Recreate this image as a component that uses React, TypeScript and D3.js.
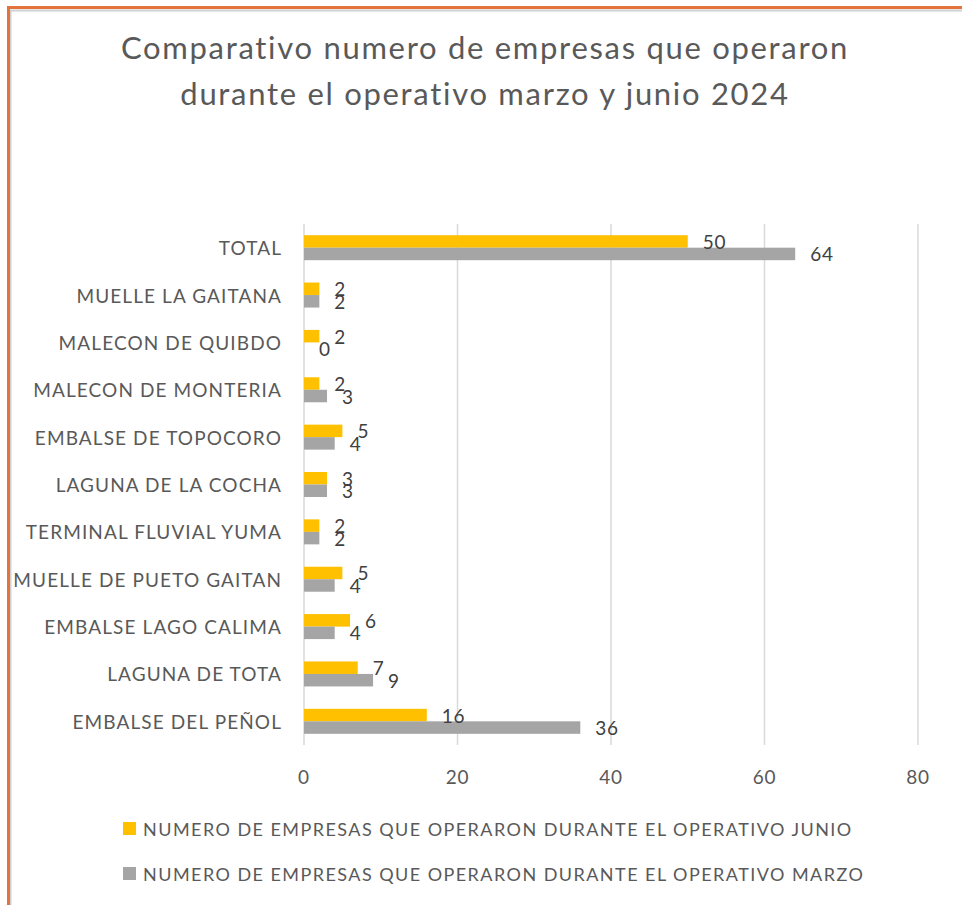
import React from "react";
import * as d3 from "d3";

const categories = [
  "TOTAL",
  "MUELLE LA GAITANA",
  "MALECON DE QUIBDO",
  "MALECON DE MONTERIA",
  "EMBALSE DE TOPOCORO",
  "LAGUNA DE LA COCHA",
  "TERMINAL FLUVIAL YUMA",
  "MUELLE DE PUETO GAITAN",
  "EMBALSE LAGO CALIMA",
  "LAGUNA DE TOTA",
  "EMBALSE DEL PEÑOL",
];
const junio = [50, 2, 2, 2, 5, 3, 2, 5, 6, 7, 16];
const marzo = [64, 2, 0, 3, 4, 3, 2, 4, 4, 9, 36];
const xTicks = [0, 20, 40, 60, 80];
const seriesNames = [
  "NUMERO DE EMPRESAS QUE OPERARON DURANTE EL OPERATIVO JUNIO",
  "NUMERO DE EMPRESAS QUE OPERARON DURANTE EL OPERATIVO MARZO",
];
const titleLines = [
  "Comparativo numero de empresas que operaron",
  "durante el operativo marzo y junio 2024",
];

const W = 962;
const H = 905;
const FONT = "Lato, 'Open Sans', sans-serif";
const TEXT = "#595959";
const YELLOW = "#FFC000";
const GREY = "#A5A5A5";

export default function App() {
  const x = d3.scaleLinear().domain([0, 80]).range([304, 918]);
  const y = d3.scaleBand<string>().domain(categories).range([224, 745]);
  const groupH = 25;
  const inner = d3.scaleBand<string>().domain(["j", "m"]).range([0, groupH]);
  const bandOffset = (y.bandwidth() - groupH) / 2;

  return (
    <svg
      width={W}
      height={H}
      style={{ position: "absolute", left: 0, top: 0, display: "block" }}
      fontFamily={FONT}
    >
      <rect x={0} y={0} width={W} height={H} fill="#fff" />
      {/* frame */}
      <line x1={10.5} y1={10} x2={10.5} y2={H} stroke="#D0D0D0" strokeWidth={2} />
      <line x1={10} y1={10.5} x2={W} y2={10.5} stroke="#D0D0D0" strokeWidth={2} />
      <line x1={8.5} y1={6} x2={8.5} y2={H} stroke="#E2733B" strokeWidth={3} />
      <line x1={7} y1={7.5} x2={W} y2={7.5} stroke="#E2733B" strokeWidth={3} />

      {/* title */}
      {titleLines.map((t, i) => (
        <text
          key={i}
          x={485}
          y={47 + i * 46}
          textAnchor="middle"
          dominantBaseline="central"
          fontSize={31}
          letterSpacing={1.7}
          fill={TEXT}
        >
          {t}
        </text>
      ))}

      {/* gridlines */}
      {xTicks.map((t) => (
        <line
          key={t}
          x1={x(t)}
          x2={x(t)}
          y1={224}
          y2={745}
          stroke="#D9D9D9"
          strokeWidth={1.5}
        />
      ))}
      {xTicks.map((t) => (
        <text
          key={"t" + t}
          x={x(t)}
          y={776}
          textAnchor="middle"
          dominantBaseline="central"
          fontSize={19}
          letterSpacing={0.8}
          fill={TEXT}
        >
          {t}
        </text>
      ))}

      {/* categories */}
      {categories.map((c) => (
        <text
          key={c}
          x={282}
          y={(y(c) as number) + y.bandwidth() / 2}
          textAnchor="end"
          dominantBaseline="central"
          fontSize={19}
          letterSpacing={1.1}
          fill={TEXT}
        >
          {c}
        </text>
      ))}

      {/* bars */}
      {categories.map((c, i) => {
        const top = (y(c) as number) + bandOffset;
        const yj = top + (inner("j") as number);
        const ym = top + (inner("m") as number);
        const h = inner.bandwidth();
        return (
          <g key={c}>
            <rect x={x(0)} y={yj} width={x(junio[i]) - x(0)} height={h} fill={YELLOW} />
            <rect x={x(0)} y={ym} width={x(marzo[i]) - x(0)} height={h} fill={GREY} />
            <text
              x={x(junio[i]) + 15}
              y={yj + h / 2}
              dominantBaseline="central"
              fontSize={19}
              letterSpacing={0.8}
              fill="#404040"
            >
              {junio[i]}
            </text>
            <text
              x={x(marzo[i]) + 15}
              y={ym + h / 2}
              dominantBaseline="central"
              fontSize={19}
              letterSpacing={0.8}
              fill="#404040"
            >
              {marzo[i]}
            </text>
          </g>
        );
      })}

      {/* legend */}
      {seriesNames.map((s, i) => (
        <g key={s}>
          <rect
            x={123}
            y={822 + i * 45}
            width={13}
            height={13}
            fill={i === 0 ? YELLOW : GREY}
          />
          <text
            x={143}
            y={829 + i * 45}
            dominantBaseline="central"
            fontSize={18}
            letterSpacing={1.45}
            fill={TEXT}
          >
            {s}
          </text>
        </g>
      ))}
    </svg>
  );
}
